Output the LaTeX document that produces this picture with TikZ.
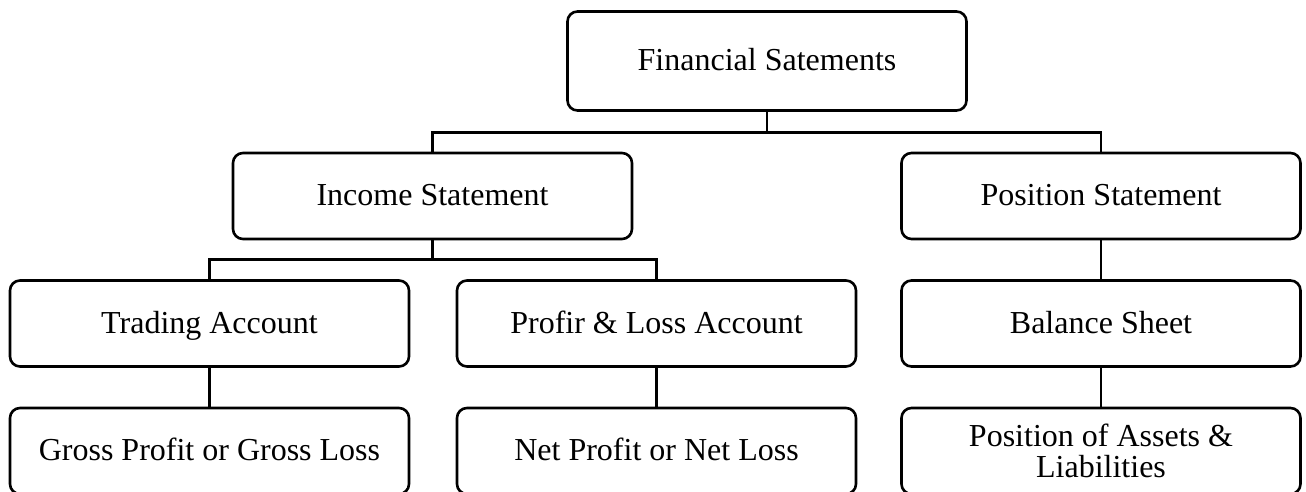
\documentclass[tikz,border=0pt]{standalone}
\usepackage{fontspec}
\setmainfont{Liberation Serif}
\usepackage{tikz}

\begin{document}
\begin{tikzpicture}[x=0.5pt,y=-0.5pt,line width=1.3pt,
    box/.style={draw,rounded corners=5pt,minimum width=199.5pt,minimum height=43pt,
        align=center,inner sep=0pt,text height=11.2pt,text depth=1.6pt,
        font=\fontsize{16}{15.5}\selectfont}]
    \useasboundingbox (0,0) rectangle (1306,492);
    % Draw the top box
    \node[box,minimum height=49.5pt] (fin) at (767,61) {Financial Satements};
    % Draw the second row
    \node[box] (inc) at (432.5,196) {Income Statement};
    \node[box] (pos) at (1101,196) {Position Statement};
    % Draw the third row
    \node[box] (trade) at (209.5,323.5) {Trading Account};
    \node[box] (pl) at (656.5,323.5) {Profir \& Loss Account};
    \node[box] (bal) at (1101,323.5) {Balance Sheet};
    % Draw the bottom row
    \node[box] (gross) at (209.5,451) {Gross Profit or Gross Loss};
    \node[box] (net) at (656.5,451) {Net Profit or Net Loss};
    \node[box,text height=,text depth=] (assets) at (1101,451) {Position of Assets \&\\Liabilities};
    % Draw the connectors
    \draw (fin.south) -- ++(0,21) -| (inc.north);
    \draw (fin.south) -- ++(0,21) -| (pos.north);
    \draw (inc.south) -- ++(0,19) -| (trade.north);
    \draw (inc.south) -- ++(0,19) -| (pl.north);
    \draw (pos.south) -- (bal.north);
    \draw (trade.south) -- (gross.north);
    \draw (pl.south) -- (net.north);
    \draw (bal.south) -- (assets.north);
\end{tikzpicture}
\end{document}
